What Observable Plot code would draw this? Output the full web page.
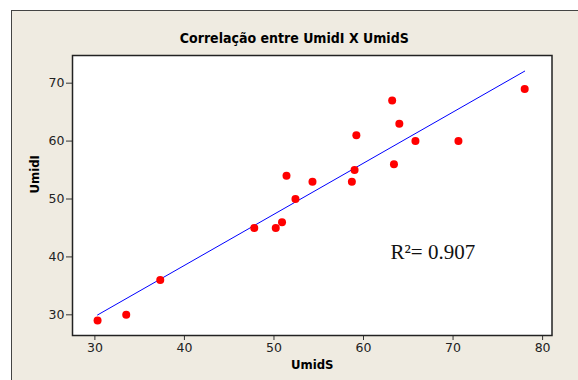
<!DOCTYPE html>
<html>
<head>
<meta charset="utf-8">
<script src="https://cdn.jsdelivr.net/npm/d3@7"></script>
<script src="https://cdn.jsdelivr.net/npm/@observablehq/plot@0.6"></script>
<style>
  html, body { margin: 0; padding: 0; background: #ffffff; }
  #wrap { position: relative; width: 578px; height: 380px; overflow: hidden; }
  #panel { position: absolute; left: 11px; top: 10px; width: 700px; height: 500px;
           background: #EFEBE1; border-left: 1.5px solid #444; border-top: 1.5px solid #444; }
  #chart { position: absolute; left: 0; top: 0; }
</style>
</head>
<body>
<div id="wrap"><div id="panel"></div><div id="chart"></div></div>
<script>
const titleText = "Correlação entre UmidI X UmidS";
const xLabel = "UmidS";
const yLabel = "UmidI";
const r2Text = "R²= 0.907";
const xTicks = [30, 40, 50, 60, 70, 80];
const yTicks = [30, 40, 50, 60, 70];
const umidS = [30.3, 33.5, 37.3, 47.8, 50.2, 50.9, 51.4, 52.4, 54.3, 58.7, 59.0, 59.2, 63.2, 63.4, 64.0, 65.8, 70.6, 78.0];
const umidI = [29, 30, 36, 45, 45, 46, 54, 50, 53, 53, 55, 61, 67, 56, 63, 60, 60, 69];

const data = umidS.map((s, i) => ({s, i: umidI[i]}));
const font = "DejaVu Sans, sans-serif";
const boldFont = "'DejaVu Sans Condensed', 'DejaVu Sans', sans-serif";

const chart = Plot.plot({
  width: 578,
  height: 380,
  marginLeft: 72,
  marginRight: 26.5,
  marginTop: 55,
  marginBottom: 45,
  style: {background: "transparent", fontFamily: font, fontSize: "12px", color: "#222"},
  x: {domain: [27.5, 81.05], ticks: xTicks, label: null},
  y: {domain: [26.43, 74.78], ticks: yTicks, label: null},
  marks: [
    Plot.frame({fill: "white"}),
    Plot.axisX({ticks: xTicks, tickSize: 5, tickPadding: 3, fontSize: 12.5, stroke: "#333", fill: "#222"}),
    Plot.axisY({ticks: yTicks, tickSize: 6, tickPadding: 2, fontSize: 12.5, stroke: "#333", fill: "#222"}),
    Plot.linearRegressionY(data, {x: "s", y: "i", stroke: "#0000FF", strokeWidth: 1, ci: 0}),
    Plot.dot(data, {x: "s", y: "i", r: 4, fill: "#FF0000", stroke: "none"}),
    Plot.frame({stroke: "#222", strokeWidth: 1.5}),
    Plot.text([titleText], {frameAnchor: "top", lineAnchor: "middle", dx: -18, dy: -17, fontWeight: "bold", fontSize: 14, fill: "#000", fontFamily: boldFont}),
    Plot.text([xLabel], {frameAnchor: "bottom", lineAnchor: "middle", dy: 29.5, fontWeight: "bold", fontSize: 13, fill: "#000", fontFamily: boldFont}),
    Plot.text([yLabel], {frameAnchor: "left", dx: -38, dy: -2, rotate: -90, fontWeight: "bold", fontSize: 13, fill: "#000", fontFamily: boldFont}),
    Plot.text([r2Text], {frameAnchor: "bottom-left", dx: 318, dy: -77, textAnchor: "start", lineAnchor: "bottom", fontSize: 21, fill: "#111", fontFamily: "Liberation Serif, serif"})
  ]
});
document.getElementById("chart").appendChild(chart);
</script>
</body>
</html>
